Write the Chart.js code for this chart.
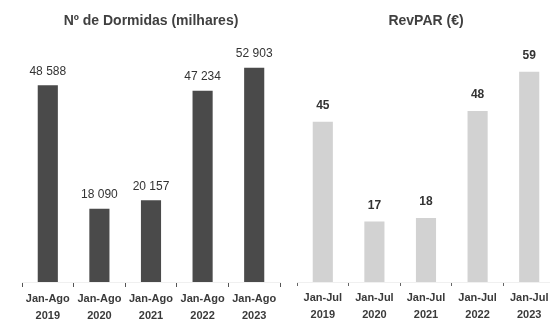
<!DOCTYPE html>
<html>
<head>
<meta charset="utf-8">
<script src="https://cdn.jsdelivr.net/npm/chart.js@4/dist/chart.umd.min.js"></script>
<style>
  html, body { margin: 0; padding: 0; background: #fff; overflow: hidden; }
  body { width: 550px; height: 320px; position: relative; }
  .panel { position: absolute; top: 0; height: 320px; }
  #left { left: 0; width: 290px; }
  #right { left: 275px; width: 290px; }
</style>
</head>
<body>
<div class="panel" id="left"><canvas id="dormidas"></canvas></div>
<div class="panel" id="right"><canvas id="revpar"></canvas></div>
<script>
// Overnight stays (thousands), January–August
const dormidasLabels = [["Jan-Ago", "2019"], ["Jan-Ago", "2020"], ["Jan-Ago", "2021"], ["Jan-Ago", "2022"], ["Jan-Ago", "2023"]];
const dormidasValues = [48588, 18090, 20157, 47234, 52903];
const dormidasText = ["48 588", "18 090", "20 157", "47 234", "52 903"];

// RevPAR (€), January–July
const revparLabels = [["Jan-Jul", "2019"], ["Jan-Jul", "2020"], ["Jan-Jul", "2021"], ["Jan-Jul", "2022"], ["Jan-Jul", "2023"]];
const revparValues = [45, 17, 18, 48, 59];

const FONT = "'Liberation Sans', Arial, sans-serif";

// Writes each bar's value above it
const valueLabels = {
  id: 'valueLabels',
  afterDatasetsDraw(chart, args, opts) {
    const ctx = chart.ctx;
    const meta = chart.getDatasetMeta(0);
    ctx.save();
    ctx.font = opts.font;
    ctx.fillStyle = opts.color;
    ctx.textAlign = 'center';
    ctx.textBaseline = 'bottom';
    meta.data.forEach((bar, i) => {
      ctx.fillText(opts.texts[i], bar.x, bar.y - opts.gap);
    });
    ctx.restore();
  }
};

function makeChart(id, title, labels, values, texts, max, color, labelFont, gap, tickLen, tickColor) {
  return new Chart(document.getElementById(id), {
    type: 'bar',
    data: {
      labels: labels,
      datasets: [{
        data: values,
        backgroundColor: color,
        borderWidth: 0,
        barPercentage: 0.39,
        categoryPercentage: 1.0
      }]
    },
    options: {
      responsive: true,
      maintainAspectRatio: false,
      animation: false,
      layout: { padding: { left: 22, right: 10, top: 0, bottom: 0 } },
      plugins: {
        legend: { display: false },
        tooltip: { enabled: false },
        title: {
          display: true,
          text: title,
          color: '#404040',
          font: { family: FONT, size: 14, weight: 'bold', lineHeight: 1.2 },
          padding: { top: 13, bottom: 10 }
        },
        valueLabels: { texts: texts, font: labelFont, color: '#333333', gap: gap }
      },
      scales: {
        x: {
          grid: {
            display: true,
            drawOnChartArea: false,
            drawTicks: true,
            tickLength: tickLen,
            color: tickColor,
            lineWidth: 1,
            offset: true
          },
          border: { display: true, color: '#f0f0f0', width: 1 },
          ticks: {
            color: '#3a3a3a',
            font: { family: FONT, size: 11, weight: 'bold', lineHeight: 1.5 },
            padding: 4,
            maxRotation: 0,
            autoSkip: false
          },
          afterFit(scale) { scale.height = 38; }
        },
        y: {
          display: false,
          min: 0,
          max: max
        }
      }
    },
    plugins: [valueLabels]
  });
}

makeChart('dormidas', 'Nº de Dormidas (milhares)', dormidasLabels, dormidasValues, dormidasText,
          59800, '#4a4a4a', '12px ' + FONT, 8, 5, '#555555');
makeChart('revpar', 'RevPAR (€)', revparLabels, revparValues, revparValues.map(String),
          68, '#d2d2d2', 'bold 12px ' + FONT, 10, 4, '#666666');
</script>
</body>
</html>
